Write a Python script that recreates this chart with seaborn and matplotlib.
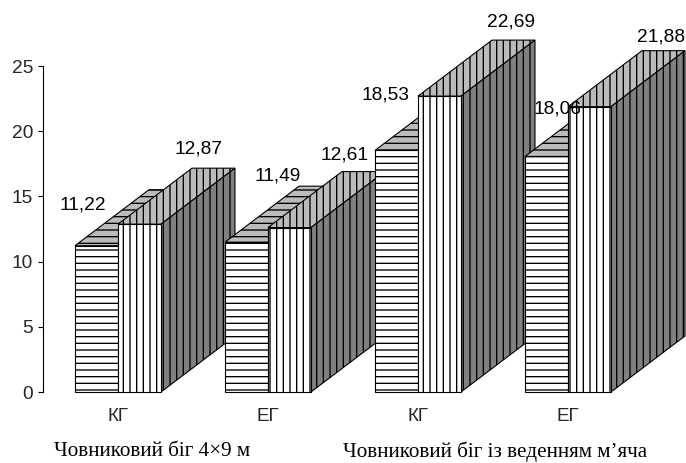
import numpy as np
import pandas as pd
import matplotlib
matplotlib.use('Agg')
import matplotlib.pyplot as plt
from matplotlib.patches import Polygon
import seaborn as sns

# values
positions = ['a', 'b', 'c', 'd']
tick_labels = ['КГ', 'ЕГ', 'КГ', 'ЕГ']
series_one = [11.22, 11.49, 18.53, 18.06]
series_two = [12.87, 12.61, 22.69, 21.88]
caption_left = 'Човниковий біг 4×9 м'
caption_right = 'Човниковий біг із веденням м’яча'

# label shifts from the bar top centre, in pixels
shift_one = [(-14, 41), (31, 66), (-11, 55), (11, 48)]
shift_two = [(59, 75), (55, 73), (72, 74), (72, 70)]

W, H, DPI = 686, 463, 80
DX, DY = 74 / 150, 56 / 13.04   # fake 3D depth in data units
TOP, SIDE = '#bbbbbb', '#808080'

sns.set_style('white')
plt.rcParams['font.family'] = ['Liberation Sans', 'DejaVu Sans']
plt.rcParams['hatch.linewidth'] = 1.2

df = pd.DataFrame({
    'pos': positions * 2,
    'value': series_one + series_two,
    'series': ['one'] * 4 + ['two'] * 4,
})

fig = plt.figure(figsize=((W + 0.01) / DPI, (H + 0.01) / DPI), dpi=DPI)
ax = fig.add_axes([43 / W, 1 - 392 / H, 600 / W, 326 / H])
ax.set_facecolor('none')

sns.barplot(data=df, x='pos', y='value', hue='series', order=positions,
            palette=['white', 'white'], width=0.573, gap=0, saturation=1,
            edgecolor='black', linewidth=1, legend=False, ax=ax)

ax.set_xlim(-0.5, 3.5)
ax.set_ylim(0, 25)

hatches = ['--', '||']
shifts = [shift_one, shift_two]
for s, cont in enumerate(ax.containers):
    for i, bar in enumerate(cont.patches):
        x0, w, h = bar.get_x(), bar.get_width(), bar.get_height()
        z = 3 + i * 3 + s
        bar.set_hatch(hatches[s])
        bar.set_zorder(z + 0.2)
        bar.set_clip_on(False)
        top = [(x0, h), (x0 + w, h), (x0 + w + DX, h + DY), (x0 + DX, h + DY)]
        side = [(x0 + w, 0), (x0 + w + DX, DY), (x0 + w + DX, h + DY), (x0 + w, h)]
        ax.add_patch(Polygon(top, facecolor=TOP, edgecolor='black', hatch=hatches[s],
                             lw=1, zorder=z, clip_on=False))
        ax.add_patch(Polygon(side, facecolor=SIDE, edgecolor='black', hatch='||',
                             lw=1, zorder=z + 0.1, clip_on=False))
        label = f'{h:.2f}'.replace('.', ',')
        ax.annotate(label, (x0 + w / 2, h), xytext=shifts[s][i], textcoords='offset pixels',
                    ha='center', va='center', fontsize=17.2, color='black',
                    zorder=30, annotation_clip=False)

ax.set_xticks(range(4))
ax.set_xticklabels(tick_labels)
ax.set_yticks(range(0, 30, 5))
ax.set_xlabel('')
ax.set_ylabel('')
ax.tick_params(axis='x', length=0, pad=14, labelsize=17)
ax.tick_params(axis='y', left=True, length=4.5, width=1, color='black', pad=4.5, labelsize=17.2)
sns.despine(ax=ax, top=True, right=True, bottom=True, left=False)
ax.spines['left'].set_color('black')
ax.spines['left'].set_linewidth(1)

fig.text(152.5 / W, 1 - 451.5 / H, caption_left, family='Liberation Serif', fontsize=19,
         ha='center', va='center', color='black')
fig.text(495 / W, 1 - 451.5 / H, caption_right, family='Liberation Serif', fontsize=19,
         ha='center', va='center', color='black')

fig.savefig('out.png', dpi=DPI)
